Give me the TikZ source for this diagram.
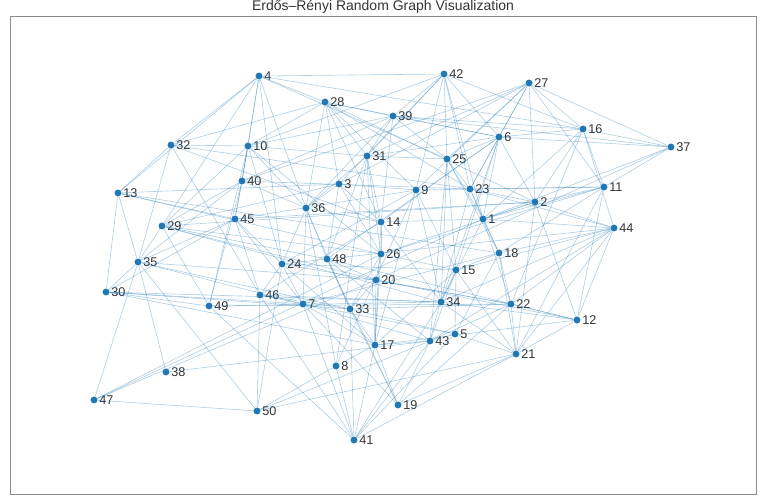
\documentclass[tikz,border=0pt]{standalone}
\usepackage{fontspec}
\setmainfont{Liberation Sans}
\usetikzlibrary{positioning}
\definecolor{nodeblue}{RGB}{31,119,180}
\tikzset{vtx/.style={circle, fill=nodeblue, inner sep=0pt, minimum size=5.2pt},
  lbl/.style={anchor=west, inner sep=0pt, font=\fontsize{9.5}{10}\selectfont, text=black!80},
  edge/.style={draw=nodeblue, draw opacity=0.36, line width=0.45pt}}
\begin{document}
\begin{tikzpicture}[x=0.75pt, y=-0.75pt]
\useasboundingbox (0,0) rectangle (765,500);
\draw[black!45, line width=0.6pt] (10,16) rectangle (756,494);
\node[font=\fontsize{10.5}{12}\selectfont, text=black!80] (title) at (383,7) {Erdős–Rényi Random Graph Visualization};

% vertices
\foreach \n/\x/\y in {1/483/219, 2/535/202, 3/339/184, 4/259/76, 5/455/334,
    6/499/137, 7/303/304, 8/336/366, 9/416/190, 10/248/146, 11/604/187,
    12/577/320, 13/118/193, 14/381/222, 15/456/270, 16/583/129, 17/375/345,
    18/499/253, 19/398/405, 20/376/280, 21/516/354, 22/511/304, 23/470/189,
    24/282/264, 25/447/159, 26/381/254, 27/529/83, 28/325/102, 29/162/226,
    30/106/292, 31/367/156, 32/171/145, 33/350/309, 34/441/302, 35/138/262,
    36/306/208, 37/671/147, 38/166/372, 39/393/116, 40/242/181, 41/354/440,
    42/444/74, 43/430/341, 44/614/228, 45/235/219, 46/260/295, 47/94/400,
    48/327/259, 49/209/306, 50/257/411}{
  \node[vtx] (n\n) at (\x,\y) {};
  \node[lbl] (l\n) at (\x+5,\y) {\n};
}

% edges
\foreach \a/\b in {4/42, 4/28, 4/10, 4/40, 4/32, 4/13, 4/29, 4/36, 4/24, 4/25, 4/16,
    42/10, 42/31, 42/3, 42/25, 42/23, 42/6, 42/16, 42/9, 42/1,
    27/37, 27/40, 27/31, 27/3, 27/25, 27/9, 27/23, 27/6, 27/11, 27/16, 27/2,
    39/37, 39/28, 39/10, 39/40, 39/42, 39/31, 39/36, 39/14, 39/6, 39/25, 39/16,
    28/10, 28/32, 28/31, 28/3, 28/36, 28/14, 28/23, 28/6, 28/9, 28/2,
    6/37, 6/16, 6/31, 6/25, 6/23, 6/1, 6/2, 6/14, 6/15, 6/34, 6/48,
    16/37, 16/11, 16/2, 16/44, 16/1, 16/22,
    11/37, 11/2, 11/1, 11/9, 11/23, 11/26, 11/18, 11/12, 11/21,
    37/20, 37/1,
    10/32, 10/40, 10/45, 10/29, 10/31, 10/36, 10/24, 10/26, 10/49,
    40/45, 40/29, 40/36, 40/23, 40/49, 40/35,
    31/25, 31/36, 31/14, 31/26, 31/48, 31/17, 31/8,
    25/23, 25/1, 25/15, 25/18, 25/34, 25/43,
    3/36, 3/14, 3/29, 3/13, 3/48, 3/26, 3/9,
    9/45, 9/24, 9/15, 9/34, 9/17, 9/8,
    23/32, 23/2, 23/1, 23/44, 23/18, 23/43,
    2/44, 2/1, 2/45, 2/29, 2/26, 2/21, 2/12,
    32/35, 32/46,
    13/32, 13/30, 13/35, 13/45, 13/26, 13/18,
    29/35, 29/49, 29/48, 29/26, 29/20, 29/34,
    45/24, 45/35, 45/30, 45/46, 45/7,
    36/24, 36/48, 36/14, 36/7, 36/33, 36/8,
    14/32, 14/26, 14/1, 14/34, 14/17, 14/46,
    1/47, 1/44, 1/18, 1/34, 1/22,
    44/18, 44/15, 44/34, 44/22, 44/43, 44/12, 44/21, 44/48,
    26/47, 26/20, 26/15, 26/33, 26/17,
    18/15, 18/22, 18/5, 18/21, 18/7,
    48/24, 48/20, 48/33, 48/43, 48/12, 48/19,
    35/47, 35/38, 35/50, 35/30, 35/7, 35/33, 35/20,
    24/46, 24/7, 24/50, 24/17, 24/15, 24/22,
    15/34, 15/43, 15/5, 15/21, 15/17,
    20/33, 20/17, 20/12, 20/22,
    30/49, 30/7, 30/33, 30/34, 30/17,
    46/50, 46/41, 46/7, 46/34, 46/33,
    7/41, 7/19, 7/43, 7/5, 7/17,
    49/41, 49/22, 49/34,
    34/41, 34/12, 34/21,
    22/19, 22/12, 22/21, 22/43, 22/33,
    33/41, 33/17, 33/5, 33/19,
    12/21, 12/17,
    5/43, 5/21, 5/41,
    43/38, 43/50, 43/19, 43/17, 43/41,
    17/41, 17/19, 17/8,
    21/50, 21/41, 21/19,
    8/50, 8/41,
    47/20, 47/50}
  \draw[edge] (n\a) -- (n\b);
\end{tikzpicture}
\end{document}
